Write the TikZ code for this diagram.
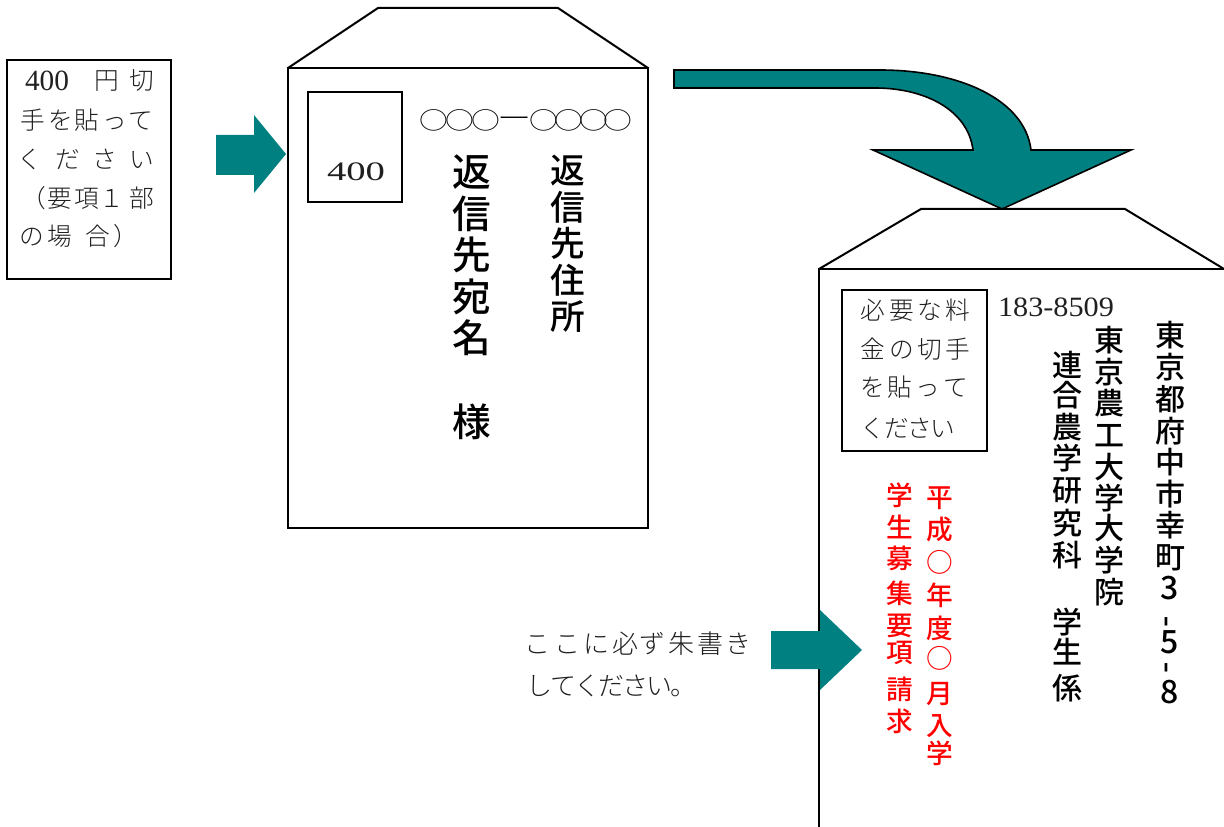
\documentclass[tikz,border=0pt]{standalone}
\usepackage{fontspec}
\setmainfont{Liberation Serif}
\newfontfamily\gothic{Noto Sans CJK JP Medium}
\newfontfamily\thin{Noto Sans CJK JP Light}
\definecolor{tealfill}{HTML}{008080}
\definecolor{inkgray}{HTML}{202020}
\newcommand{\glyphrow}[3]{%
  \foreach \gx/\gy/\gc [count=\gi] in {#3}
    \node[#2] (#1\gi) at (\gx,\gy) {\vphantom{字}\gc};}
\tikzset{
  outline/.style={draw=black,line width=1.5pt,line join=miter},
  thinbox/.style={draw=black,line width=1.15pt},
  tealshape/.style={fill=tealfill,draw=none},
  tealline/.style={fill=tealfill,draw=black,line width=1.2pt,line join=miter},
  glyph/.style={inner sep=0pt,outer sep=0pt,anchor=center},
  big/.style={glyph,font=\gothic\fontsize{29}{29}\selectfont},
  mid/.style={glyph,font=\gothic\fontsize{26}{26}\selectfont},
  addr/.style={glyph,font=\gothic\fontsize{22.5}{22.5}\selectfont},
  num/.style={glyph,font=\gothic\fontsize{24}{24}\selectfont},
  redtxt/.style={glyph,text=red,font=\gothic\fontsize{20}{20}\selectfont},
  note/.style={glyph,text=inkgray,font=\thin\fontsize{19.5}{19.5}\selectfont},
  small/.style={glyph,text=inkgray,font=\thin\fontsize{18.5}{18.5}\selectfont},
  ring/.style={glyph,font=\thin\fontsize{18}{18}\selectfont,xscale=1.2},
  latin/.style={glyph,text=inkgray},
}
\begin{document}
\begin{tikzpicture}[x=0.75pt,y=-0.75pt]
\useasboundingbox (0,0) rectangle (1224,827);
% left instruction box
\draw[thinbox] (7,60) rectangle (171,279);
\node[latin,font=\fontsize{22}{22}\selectfont] (leftfour) at (47,81) {400};
\glyphrow{la}{small}{107/80/円,142/80/切,
  33/120/手,61/120/を,87/120/貼,115/120/っ,141/120/て,
  30/159/く,68/159/だ,105/159/さ,142/159/い,
  34/198/（,60/198/要,87/198/項,112/198/１,142/198/部,
  32/236/の,60/236/場,98/236/合,126/236/）}
% arrow 1
\fill[tealshape] (216,135) -- (254,135) -- (254,115) -- (286,154) -- (254,193) -- (254,175) -- (216,175) -- cycle;
% envelope 1
\draw[outline] (288,68) rectangle (648,528);
\draw[outline] (288,68) -- (378,8) -- (558,8) -- (648,68);
\draw[thinbox] (308,92) rectangle (402,202);
\node[latin,font=\fontsize{20}{20}\selectfont,xscale=1.45] (stampfour) at (356,172) {400};
\glyphrow{rg}{ring}{434/120/○,460/120/○,486/120/○,544/120/○,569/120/○,594/120/○,618/120/○}
\node[glyph,font=\thin\fontsize{19}{19}\selectfont,xscale=1.35] (rgdash) at (515,122) {ー};
\glyphrow{na}{big}{472/172/返,472/214/信,472/255/先,472/297/宛,472/338/名,472/422/様}
\glyphrow{ad}{mid}{568/170/返,568/207/信,568/243/先,568/280/住,568/316/所}
% curved arrow
\path[tealline] (674,70) -- (880,70) .. controls (960,70) and (1025,100) .. (1031,150)
  -- (973,150) .. controls (968,110) and (925,88) .. (875,88) -- (674,88) -- cycle;
\path[tealline] (873,150) -- (1131,150) -- (1002,209) -- cycle;
\draw[tealfill,line width=1.5pt] (974,150) -- (1030,150);
% envelope 2
\draw[outline] (819,827) -- (819,269) -- (1224,269);
\draw[outline] (819,269) -- (921,209) -- (1125,209) -- (1224,269);
\draw[thinbox] (842,290) rectangle (987,451);
\glyphrow{st}{small}{873/310/必,902/310/要,930/310/な,958/310/料,
  873/349/金,902/349/の,930/349/切,958/349/手,
  873/387/を,900/387/貼,928/387/っ,956/387/て,
  873/428/く,897/428/だ,920/428/さ,943/428/い}
\node[latin,font=\fontsize{21}{21}\selectfont,xscale=1.08] (zip) at (1056,307) {183-8509};
\glyphrow{ca}{addr}{1170/335/東,1170/367/京,1170/399/都,1170/431/府,1170/462/中,1170/494/市,1170/525/幸,1170/557/町}
\node[num] (num3) at (1170,588) {3};
\node[num,rotate=90] (dasha) at (1170,622) {-};
\node[num] (num5) at (1170,642) {5};
\node[num,rotate=90] (dashb) at (1170,668) {-};
\node[num] (num8) at (1170,692) {8};
\glyphrow{cb}{addr}{1109/340/東,1109/372/京,1109/403/農,1109/435/工,1109/467/大,1109/498/学,1109/528/大,1109/560/学,1109/592/院}
\glyphrow{cc}{addr}{1067/365/連,1067/395/合,1067/427/農,1067/458/学,1067/490/研,1067/523/究,1067/555/科,1067/622/学,1067/652/生,1067/688/係}
\glyphrow{rd}{redtxt}{940/497/平,940/529/成,940/562/○,940/595/年,940/628/度,940/658/○,940/693/月,940/725/入,940/753/学}
\glyphrow{re}{redtxt}{900/495/学,900/527/生,900/558/募,900/593/集,900/625/要,900/652/項,900/689/請,900/721/求}
% arrow 3
\fill[tealshape] (771,631) -- (820,631) -- (820,610) -- (862,650) -- (820,690) -- (820,669) -- (771,669) -- cycle;
\glyphrow{nb}{note}{537/644/こ,567/644/こ,596/644/に,625/644/必,652/644/ず,681/644/朱,710/644/書,738/644/き,
  539/686/し,563/686/て,587/686/く,611/686/だ,635/686/さ,659/686/い,683/686/。}
\end{tikzpicture}
\end{document}
